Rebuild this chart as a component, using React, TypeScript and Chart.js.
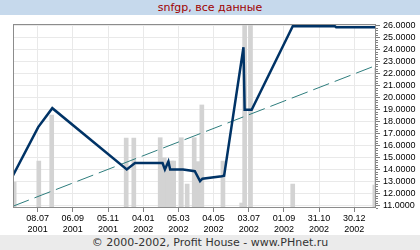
import React, { useEffect, useRef } from "react";
import { Chart, registerables } from "chart.js";

Chart.register(...registerables);

const titleText = "snfgp, все данные";
const footerText = "© 2000-2002, Profit House - www.PHnet.ru";

const xRange = ["2001-05-27", "2003-02-05"];
const xTickDates = [
  "2001-07-08", "2001-09-06", "2001-11-05", "2002-01-04", "2002-03-05",
  "2002-05-04", "2002-07-03", "2002-09-01", "2002-10-31", "2002-12-30",
];
const yRange = [10.79, 26.125];
const yTickValues = [11, 12, 13, 14, 15, 16, 17, 18, 19, 20, 21, 22, 23, 24, 25, 26];

const priceDates = [
  "2001-05-27", "2001-07-09", "2001-08-02", "2001-12-07", "2001-12-21",
  "2002-02-06", "2002-02-10", "2002-02-16", "2002-02-19", "2002-03-13",
  "2002-04-02", "2002-04-11", "2002-04-15", "2002-05-18", "2002-05-22",
  "2002-06-24", "2002-06-26", "2002-07-08", "2002-09-16", "2002-11-27",
  "2002-11-29", "2003-02-05",
];
const priceValues = [
  13.5, 17.53, 19.11, 14.0, 14.53,
  14.53, 14.0, 14.67, 14.0, 14.0,
  13.86, 13.03, 13.23, 13.44, 13.48,
  24.19, 18.98, 18.98, 25.94, 25.94,
  25.86, 25.86,
];

const volumeDates = [
  "2001-05-29", "2001-07-10", "2001-08-01", "2001-12-06", "2001-12-19",
  "2002-02-02", "2002-02-09", "2002-02-15", "2002-02-22", "2002-02-25",
  "2002-03-10", "2002-03-20", "2002-04-01", "2002-04-07", "2002-04-14",
  "2002-05-20", "2002-06-21", "2002-06-26", "2002-07-06", "2002-09-16",
  "2003-02-03", "2003-02-06",
];
const volumeValues = [
  14.1, 25.5, 50.5, 38, 38,
  38.2, 27.2, 25.5, 25.5, 25.5,
  38.2, 13, 38.2, 25.2, 56,
  25.5, 2.7, 110, 110, 13,
  12.5, 76,
];

const trendDates = ["2001-05-27", "2003-02-05"];
const trendValues = [10.94, 22.67];

const BASE = Date.UTC(2001, 6, 8);
function dayOf(s: string): number {
  const [y, m, d] = s.split("-").map(Number);
  return Math.round((Date.UTC(y, m - 1, d) - BASE) / 86400000);
}
function dateOf(day: number): Date {
  return new Date(BASE + Math.round(day) * 86400000);
}
const pad = (n: number) => (n < 10 ? "0" + n : "" + n);

const framePlugin = {
  id: "frame",
  afterDraw(chart: any) {
    const { ctx, chartArea } = chart;
    const y = chart.scales.y;
    ctx.save();
    // minor ticks on the right
    ctx.strokeStyle = "#808080";
    ctx.lineWidth = 1;
    ctx.beginPath();
    for (let v = 10.8; v <= 26.1; v += 0.2) {
      const py = Math.round(y.getPixelForValue(v)) + 0.5;
      ctx.moveTo(chartArea.right, py);
      ctx.lineTo(chartArea.right + 2, py);
    }
    ctx.stroke();
    ctx.strokeStyle = "#8c8c8c";
    ctx.strokeRect(
      chartArea.left + 0.5,
      chartArea.top + 0.5,
      chartArea.right - chartArea.left - 1,
      chartArea.bottom - chartArea.top - 1
    );
    ctx.restore();
  },
};

export default function App() {
  const ref = useRef<HTMLCanvasElement | null>(null);
  useEffect(() => {
    if (!ref.current) return;
    Chart.defaults.font.family = "'Liberation Sans', Arial, sans-serif";
    Chart.defaults.font.size = 9;
    Chart.defaults.color = "#000";
    const chart = new Chart(ref.current, {
      type: "bar",
      data: {
        datasets: [
          {
            type: "line",
            data: priceDates.map((d, i) => ({ x: dayOf(d), y: priceValues[i] })),
            borderColor: "#003366",
            borderWidth: 2.5,
            pointRadius: 0,
            tension: 0,
            yAxisID: "y",
            order: 1,
          } as any,
          {
            type: "line",
            data: trendDates.map((d, i) => ({ x: dayOf(d), y: trendValues[i] })),
            borderColor: "#2e7d7d",
            borderWidth: 1,
            borderDash: [17, 6],
            pointRadius: 0,
            yAxisID: "y",
            order: 2,
          } as any,
          {
            type: "bar",
            data: volumeDates.map((d, i) => ({ x: dayOf(d), y: volumeValues[i] })),
            backgroundColor: "#d3d3d3",
            borderWidth: 0,
            barThickness: 4,
            yAxisID: "y2",
            order: 3,
          } as any,
        ],
      },
      options: {
        responsive: false,
        animation: false,
        devicePixelRatio: 1,
        layout: { padding: { left: 13, top: 24, right: 0, bottom: 0 } },
        plugins: { legend: { display: false }, tooltip: { enabled: false }, title: { display: false } },
        scales: {
          x: {
            type: "linear",
            min: dayOf(xRange[0]),
            max: dayOf(xRange[1]),
            offset: false,
            afterBuildTicks: (axis: any) => {
              axis.ticks = xTickDates.map((d) => ({ value: dayOf(d) }));
            },
            afterFit: (scale: any) => {
              scale.height = 42;
            },
            grid: { color: "#e9e9e9", tickColor: "#808080", tickLength: 4, offset: false },
            border: { display: false },
            ticks: {
              padding: 1,
              maxRotation: 0,
              autoSkip: false,
              font: { size: 9, lineHeight: 11 / 9 },
              callback: (v: any) => {
                const dt = dateOf(Number(v));
                return [pad(dt.getUTCDate()) + "." + pad(dt.getUTCMonth() + 1), String(dt.getUTCFullYear())];
              },
            },
          },
          y: {
            type: "linear",
            position: "right",
            min: yRange[0],
            max: yRange[1],
            afterBuildTicks: (axis: any) => {
              axis.ticks = yTickValues.map((v) => ({ value: v }));
            },
            afterFit: (scale: any) => {
              scale.width = 44;
            },
            grid: { color: "#e9e9e9", tickColor: "#808080", tickLength: 4 },
            border: { display: false },
            ticks: {
              padding: 3,
              autoSkip: false,
              callback: (v: any) => Number(v).toFixed(4),
            },
          },
          y2: {
            type: "linear",
            display: false,
            min: 0,
            max: 100,
          },
        },
      } as any,
      plugins: [framePlugin],
    });
    return () => chart.destroy();
  }, []);

  return (
    <div style={{ position: "fixed", left: 0, top: 0, width: 420, height: 250, background: "#fff", overflow: "hidden" }}>
      <canvas ref={ref} width={420} height={250} style={{ position: "absolute", left: 0, top: 0 }} />
      <div
        style={{
          position: "absolute", left: 0, top: 0, width: 420, height: 15,
          background: "#c6d9ec", color: "#a00000", textAlign: "center",
          font: "11px 'DejaVu Sans', sans-serif", lineHeight: "15px",
        }}
      >
        {titleText}
      </div>
      <div
        style={{
          position: "absolute", left: 0, top: 235, width: 420, height: 15,
          background: "#ebebeb", color: "#333", textAlign: "center",
          font: "11px 'DejaVu Sans', sans-serif", lineHeight: "15px",
        }}
      >
        {footerText}
      </div>
    </div>
  );
}
